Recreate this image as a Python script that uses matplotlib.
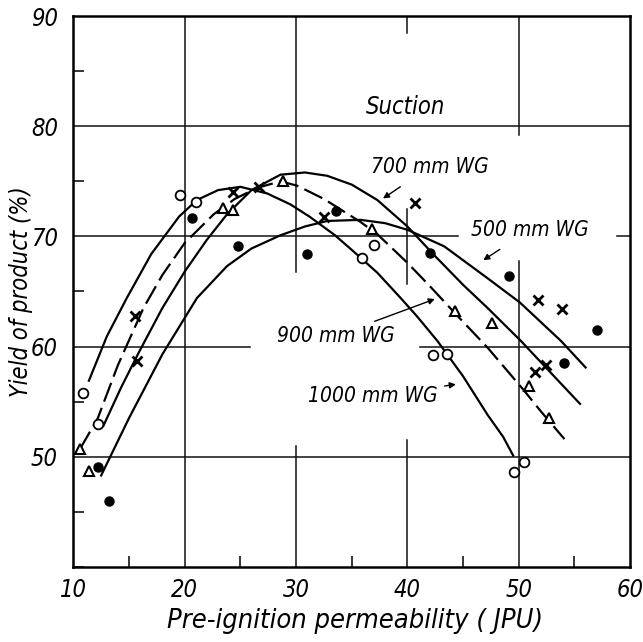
import matplotlib
matplotlib.use("Agg")
import matplotlib.pyplot as plt
import matplotlib.transforms as mtransforms
from matplotlib.ticker import MultipleLocator, FixedLocator

# measured points (pre-ignition permeability JPU, yield %)
jpu_500 = [12.2, 13.2, 20.7, 24.8, 31.0, 33.6, 42.0, 49.1, 54.1, 57.0]
yld_500 = [49.1, 46.0, 71.7, 69.1, 68.4, 72.3, 68.5, 66.4, 58.5, 61.5]

jpu_700 = [15.5, 15.7, 24.3, 26.7, 32.5, 40.7, 51.7, 53.9, 51.5, 52.4]
yld_700 = [62.8, 58.7, 74.0, 74.5, 71.8, 73.0, 64.2, 63.4, 57.7, 58.3]

jpu_900 = [10.6, 11.4, 23.4, 24.3, 28.8, 36.8, 44.3, 47.6, 50.9, 52.7]
yld_900 = [50.7, 48.7, 72.6, 72.4, 75.0, 70.7, 63.2, 62.1, 56.4, 53.5]

jpu_1000 = [10.9, 12.2, 19.6, 21.0, 35.9, 37.0, 42.3, 43.6, 49.6, 50.5]
yld_1000 = [55.8, 53.0, 73.8, 73.1, 68.0, 69.2, 59.2, 59.3, 48.6, 49.5]

# fitted curves as drawn on the chart
cx_500 = [12.5, 15.0, 18.0, 21.1, 23.8, 26.0, 28.6, 30.8, 32.8, 35.8, 38.0, 40.0, 43.3, 47.2, 50.1, 53.8, 56.0]
cy_500 = [48.3, 53.5, 59.3, 64.4, 67.3, 68.9, 70.1, 70.9, 71.4, 71.5, 71.2, 70.6, 69.1, 66.2, 64.0, 60.5, 58.1]

cx_700 = [12.7, 14.3, 15.9, 18.0, 20.0, 22.0, 23.8, 26.0, 28.6, 30.8, 32.8, 35.0, 37.3, 40.0, 42.4, 45.0, 47.2, 50.2, 52.8, 55.5]
cy_700 = [52.8, 56.3, 59.5, 63.5, 66.8, 69.7, 72.0, 74.2, 75.6, 75.8, 75.5, 74.7, 73.3, 70.9, 68.3, 65.6, 63.5, 60.5, 57.7, 54.8]

cx_900 = [10.6, 12.2, 14.0, 16.3, 18.0, 20.0, 22.6, 24.5, 26.5, 28.6, 30.1, 32.5, 35.8, 37.3, 40.0, 42.0, 44.2, 47.2, 50.4, 52.0, 54.1]
cy_900 = [50.7, 53.5, 58.3, 63.5, 66.5, 69.4, 72.0, 73.4, 74.4, 75.0, 74.6, 73.4, 71.3, 70.2, 67.6, 65.5, 63.1, 59.9, 56.1, 54.1, 51.6]

cx_1000 = [11.4, 13.0, 14.8, 17.0, 19.5, 21.1, 23.0, 25.0, 27.4, 29.5, 31.2, 33.5, 35.2, 37.3, 39.4, 40.9, 42.7, 45.0, 47.2, 48.6, 49.5]
cy_1000 = [56.9, 60.9, 64.4, 68.4, 71.8, 73.3, 74.2, 74.5, 73.9, 72.9, 71.8, 70.1, 68.6, 66.7, 64.4, 62.7, 60.5, 57.3, 53.8, 51.8, 50.1]

x_ticks = [10, 20, 30, 40, 50, 60]
y_ticks = [50, 60, 70, 80, 90]

font = dict(family="DejaVu Sans", style="italic", stretch="condensed")

fig = plt.figure(figsize=(6.43, 6.42), dpi=100)
ax = fig.add_axes([0.114, 0.117, 0.866, 0.858])
ax.set_xlim(10, 60)
ax.set_ylim(40, 90)

# broken grid lines like the original drawing
gcol = "#111111"
glw = 1.1
for y, x0, x1 in [(80, 10, 60), (70, 10, 44.5), (60, 10, 25.9), (60, 41.1, 60), (50, 10, 60)]:
    ax.plot([x0, x1], [y, y], color=gcol, lw=glw, zorder=1)
for x, y0, y1 in [(20, 40, 90), (30, 66.8, 90), (30, 40, 51.0), (40, 88.5, 90),
                  (40, 65.7, 72.5), (40, 40, 51.5), (50, 79.2, 90), (50, 40, 67.8)]:
    ax.plot([x, x], [y0, y1], color=gcol, lw=glw, zorder=1)
ax.plot([58.8, 60], [70, 70], color=gcol, lw=glw, zorder=1)

# curves
lc = "black"
ax.plot(cx_500, cy_500, color=lc, lw=1.6, zorder=2)
ax.plot(cx_700, cy_700, color=lc, lw=1.6, zorder=2)
ax.plot(cx_900, cy_900, color=lc, lw=1.6, zorder=2, dashes=(9, 3))
ax.plot(cx_1000, cy_1000, color=lc, lw=1.6, zorder=2)

# points
ax.plot(jpu_500, yld_500, "o", ms=6.5, color="black", zorder=3)
ax.plot(jpu_700, yld_700, "x", ms=7, mew=2.0, color="black", zorder=3)
ax.plot(jpu_900, yld_900, "^", ms=7.5, mfc="white", mec="black", mew=1.5, zorder=3)
ax.plot(jpu_1000, yld_1000, "o", ms=7, mfc="white", mec="black", mew=1.3, zorder=3)

# labels with arrows
arrow = dict(arrowstyle="-|>", color="black", lw=1.0, mutation_scale=9)
ax.text(39.8, 81.7, "Suction", fontsize=17, ha="center", va="center", **font)
ax.annotate("700 mm WG", xy=(37.6, 73.3), xytext=(42.0, 76.3), fontsize=15,
            ha="center", va="center", arrowprops=dict(arrow, shrinkA=9), **font)
ax.annotate("500 mm WG", xy=(46.6, 67.7), xytext=(51.0, 70.6), fontsize=15,
            ha="center", va="center", arrowprops=dict(arrow, shrinkA=9), **font)
ax.annotate("900 mm WG", xy=(42.7, 64.4), xytext=(33.6, 61.0), fontsize=15,
            ha="center", va="center", arrowprops=dict(arrow, shrinkA=3), **font)
ax.annotate("1000 mm WG", xy=(44.6, 56.6), xytext=(36.9, 55.5), fontsize=15,
            ha="center", va="center", arrowprops=dict(arrow, shrinkA=3), **font)

# ticks
ax.xaxis.set_major_locator(FixedLocator(x_ticks))
ax.yaxis.set_major_locator(FixedLocator(y_ticks))
ax.set_xticklabels([str(v) for v in x_ticks], fontsize=17, **font)
ax.set_yticklabels([str(v) for v in y_ticks], fontsize=17, **font)
shift = mtransforms.ScaledTranslation(-4 / 100, 0, fig.dpi_scale_trans)
for lab in ax.get_xticklabels():
    lab.set_transform(lab.get_transform() + shift)
ax.xaxis.set_minor_locator(MultipleLocator(5))
ax.yaxis.set_minor_locator(MultipleLocator(5))
ax.tick_params(which="major", length=0)
ax.tick_params(axis="x", which="major", pad=8)
ax.tick_params(axis="y", which="major", pad=11)
ax.tick_params(which="minor", direction="in", length=8, width=1.1)

for s in ax.spines.values():
    s.set_linewidth(1.8)

ax.set_xlabel("Pre-ignition permeability ( JPU)", fontsize=19.5, va="center", **font)
ax.xaxis.set_label_coords(0.505, -0.099)
ax.set_ylabel("Yield of product (%)", fontsize=17, **font)
ax.yaxis.set_label_coords(-0.072, 0.5)

plt.savefig("out.png", dpi=100)
